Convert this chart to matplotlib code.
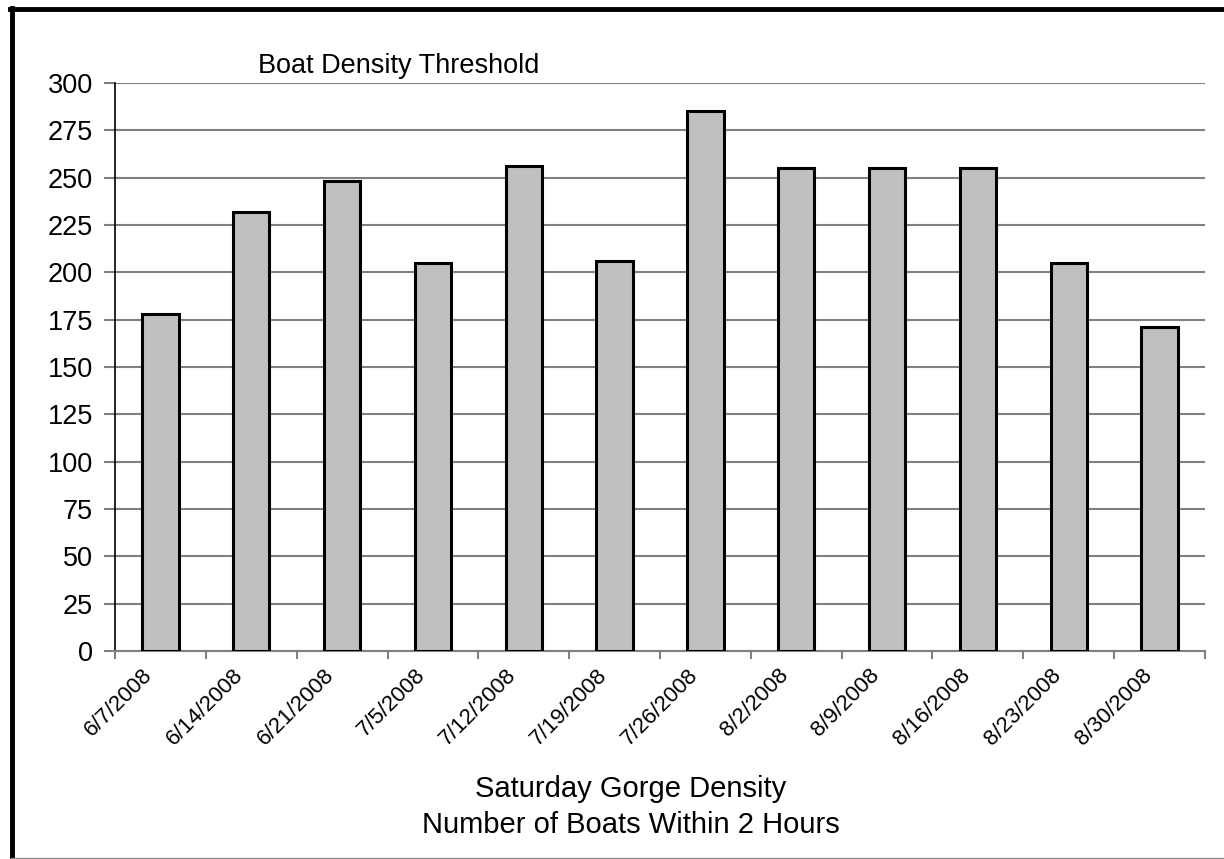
import matplotlib
matplotlib.use("Agg")
import matplotlib.pyplot as plt
import matplotlib.transforms as mtransforms
import numpy as np
from matplotlib.lines import Line2D

plt.rcParams['font.family'] = ['Liberation Sans', 'DejaVu Sans']

dates = ["6/7/2008", "6/14/2008", "6/21/2008", "7/5/2008", "7/12/2008", "7/19/2008",
         "7/26/2008", "8/2/2008", "8/9/2008", "8/16/2008", "8/23/2008", "8/30/2008"]
boats = [178, 232, 248, 205, 256, 206, 285, 255, 255, 255, 205, 171]
yticks = list(range(0, 301, 25))

W, H = 1224, 859
fig = plt.figure(figsize=(W / 100, H / 100), dpi=100)
ax = fig.add_axes([115 / W, 1 - 651 / H, (1205 - 115) / W, (651 - 83) / H])

x = np.arange(len(dates))
ax.bar(x, boats, width=0.4, color="#C0C0C0", edgecolor="black", linewidth=2.2, zorder=3)

ax.set_xlim(-0.5, len(dates) - 0.5)
ax.set_ylim(0, 300)
ax.set_yticks(yticks)
ax.set_yticklabels([str(v) for v in yticks], fontsize=19.5)
ax.yaxis.grid(True, color="#808080", linewidth=1.5, zorder=0)
ax.tick_params(axis='y', length=8, width=1.5, color="#808080", pad=8)

ax.set_xticks(x)
ax.set_xticklabels(dates, rotation=45, ha='right', va='center', rotation_mode='anchor', fontsize=16)
ax.tick_params(axis='x', which='major', length=0, pad=15)
offset = mtransforms.ScaledTranslation(-11 / 100, 0, fig.dpi_scale_trans)
for lbl in ax.get_xticklabels():
    lbl.set_transform(lbl.get_transform() + offset)
ax.set_xticks(np.arange(-0.5, len(dates)), minor=True)
ax.tick_params(axis='x', which='minor', length=6, width=1.5, color="#808080")

for s in ['top', 'right']:
    ax.spines[s].set_visible(False)
ax.spines['left'].set_color('black')
ax.spines['left'].set_linewidth(1.2)
ax.spines['bottom'].set_color('#808080')
ax.spines['bottom'].set_linewidth(1.5)

fig.text(258 / W, 1 - 73 / H, "Boat Density Threshold", fontsize=19.5, ha='left', va='baseline')
fig.text(631 / W, 1 - 797 / H, "Saturday Gorge Density", fontsize=21, ha='center', va='baseline')
fig.text(631 / W, 1 - 833 / H, "Number of Boats Within 2 Hours", fontsize=21, ha='center', va='baseline')

# outer border
fig.add_artist(Line2D([11.5 / W, 11.5 / W], [0, 1 - 8 / H], transform=fig.transFigure, color='black', linewidth=3.5))
fig.add_artist(Line2D([10 / W, 1], [1 - 8.5 / H, 1 - 8.5 / H], transform=fig.transFigure, color='black', linewidth=3.5))
fig.add_artist(Line2D([11 / W, 1], [1 - 857.5 / H, 1 - 857.5 / H], transform=fig.transFigure, color='#909090', linewidth=1))

fig.savefig("out.png", dpi=100)
